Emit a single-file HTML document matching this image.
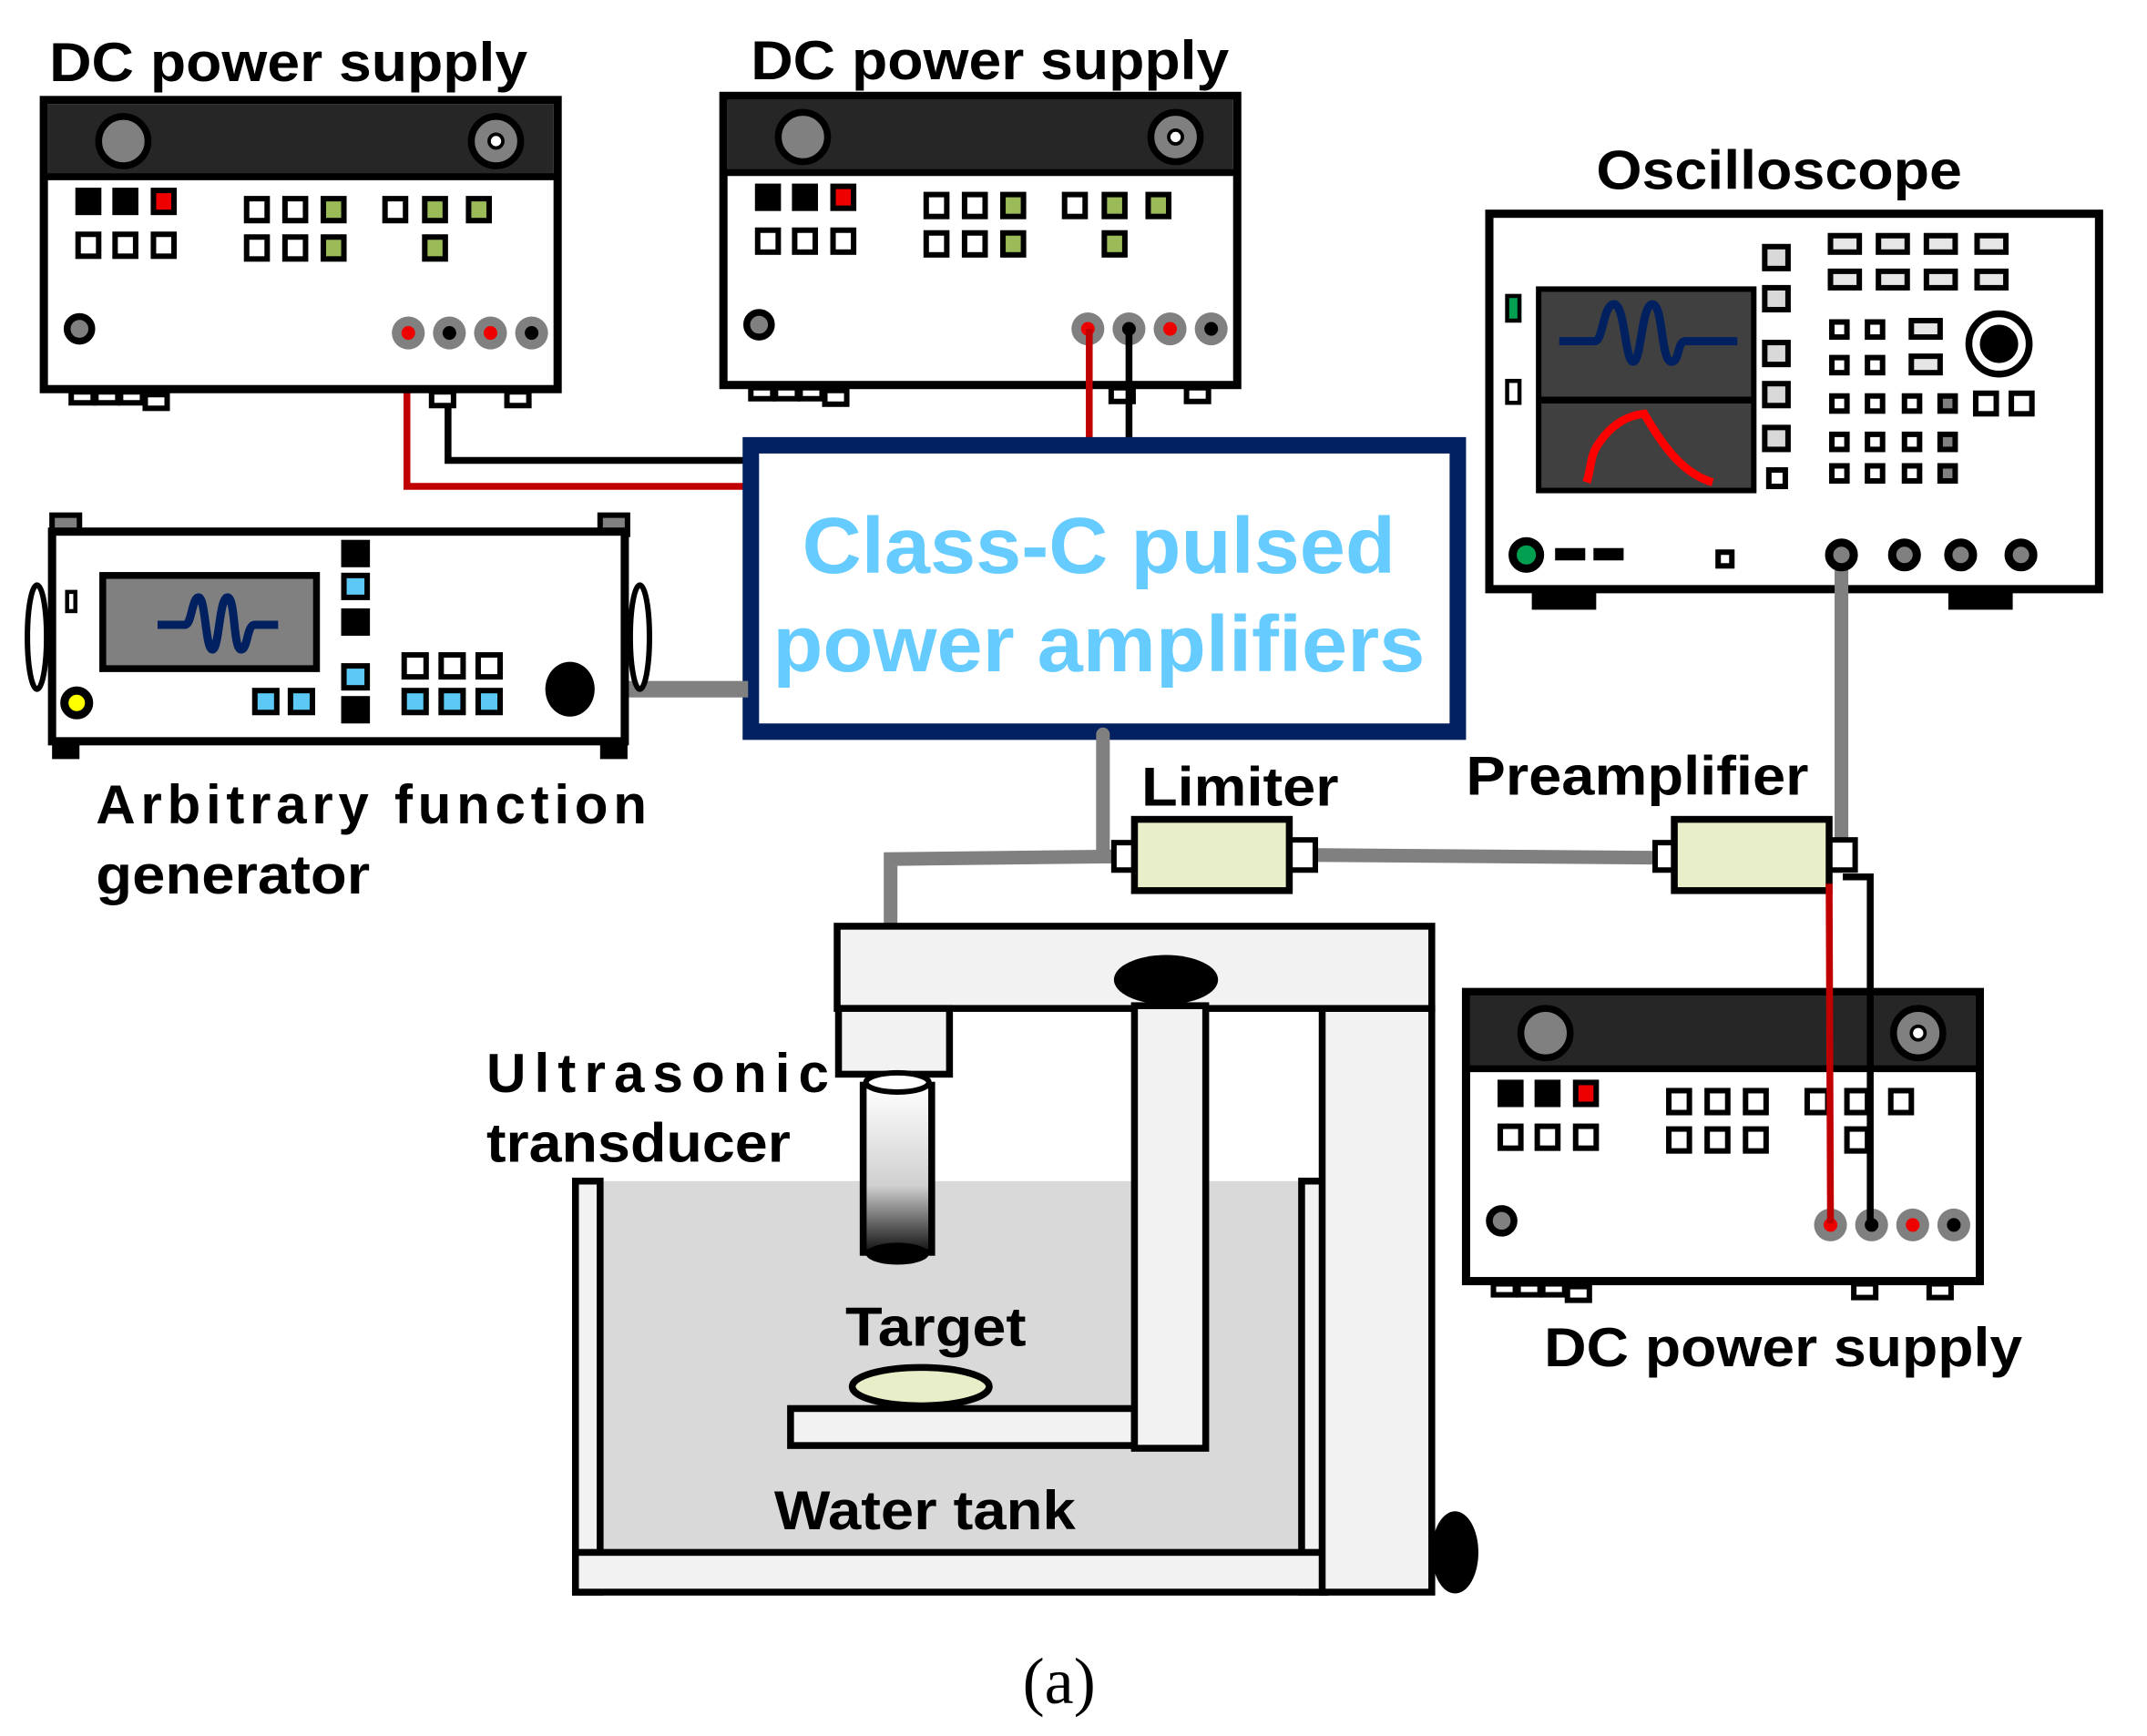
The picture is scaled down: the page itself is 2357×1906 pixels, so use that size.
<!DOCTYPE html>
<html><head><meta charset="utf-8"><style>html,body{margin:0;padding:0;background:#fff}svg{display:block}</style></head>
<body>
<svg width="2357" height="1906" viewBox="0 0 1567 1267" preserveAspectRatio="none" xmlns="http://www.w3.org/2000/svg" font-family="Liberation Sans, sans-serif">
<defs>
<g id="dc">
 <rect x="0" y="0" width="375" height="211" fill="#fff" stroke="#000" stroke-width="6"/>
 <rect x="3" y="3" width="369" height="52" fill="#262626"/>
 <line x1="0" y1="56" x2="375" y2="56" stroke="#000" stroke-width="5"/>
 <circle cx="58" cy="30" r="18" fill="#808080" stroke="#000" stroke-width="5"/>
 <circle cx="330" cy="30" r="18" fill="#808080" stroke="#000" stroke-width="5"/>
 <circle cx="330" cy="30" r="5" fill="#fff" stroke="#000" stroke-width="2.5"/>
 <g stroke="#000" stroke-width="4">
  <rect x="25" y="66" width="15" height="16" fill="#000"/><rect x="52" y="66" width="15" height="16" fill="#000"/><rect x="80" y="66" width="15" height="16" fill="#e00"/>
  <rect x="25" y="98" width="15" height="16" fill="#fff"/><rect x="52" y="98" width="15" height="16" fill="#fff"/><rect x="80" y="98" width="15" height="16" fill="#fff"/>
  <rect x="148" y="72" width="15" height="16" fill="#fff"/><rect x="176" y="72" width="15" height="16" fill="#fff"/>
  <rect x="148" y="100" width="15" height="16" fill="#fff"/><rect x="176" y="100" width="15" height="16" fill="#fff"/>
  <rect x="249" y="72" width="15" height="16" fill="#fff"/>
 </g>
 <circle cx="26" cy="167" r="9" fill="#808080" stroke="#000" stroke-width="5"/>
 <g fill="#808080"><circle cx="266" cy="170" r="12"/><circle cx="296" cy="170" r="12"/><circle cx="326" cy="170" r="12"/><circle cx="356" cy="170" r="12"/></g>
 <circle cx="266" cy="170" r="5" fill="#e00"/><circle cx="296" cy="170" r="5" fill="#000"/><circle cx="326" cy="170" r="5" fill="#e00"/><circle cx="356" cy="170" r="5" fill="#000"/>
 <g fill="#fff" stroke="#000" stroke-width="4">
  <rect x="20" y="213" width="16" height="8"/><rect x="38" y="213" width="16" height="8"/><rect x="56" y="213" width="16" height="8"/><rect x="74" y="215" width="16" height="10"/>
  <rect x="283" y="213" width="16" height="10"/><rect x="338" y="213" width="16" height="10"/>
 </g>
</g>
<g id="grn" stroke="#000" stroke-width="4" fill="#9bbb59">
  <rect x="204" y="72" width="15" height="16"/><rect x="204" y="100" width="15" height="16"/>
  <rect x="278" y="72" width="15" height="16"/><rect x="310" y="72" width="15" height="16"/>
  <rect x="278" y="100" width="15" height="16"/>
</g>
<g id="wht" stroke="#000" stroke-width="4" fill="#fff">
  <rect x="204" y="72" width="15" height="16"/><rect x="204" y="100" width="15" height="16"/>
  <rect x="278" y="72" width="15" height="16"/><rect x="310" y="72" width="15" height="16"/>
  <rect x="278" y="100" width="15" height="16"/>
</g>
<linearGradient id="tg" x1="0" y1="0" x2="0" y2="1"><stop offset="0" stop-color="#fff"/><stop offset="0.6" stop-color="#d0d0d0"/><stop offset="1" stop-color="#111"/></linearGradient>
</defs>

<polyline points="297,243 297,355 546,355" fill="none" stroke="#c00000" stroke-width="5"/>
<polyline points="327,243 327,336 546,336" fill="none" stroke="#000" stroke-width="5"/>

<use href="#dc" x="32" y="73"/><use href="#grn" x="32" y="73"/>
<use href="#dc" x="528" y="70"/><use href="#grn" x="528" y="70"/>
<use href="#dc" x="1070" y="724"/><use href="#wht" x="1070" y="724"/>

<line x1="795" y1="240" x2="795" y2="322" stroke="#c00000" stroke-width="5"/>
<line x1="824" y1="240" x2="824" y2="322" stroke="#000" stroke-width="5"/>

<text x="773" y="1243" font-size="48" text-anchor="middle" font-family="Liberation Serif, serif">(a)</text>

<rect x="548" y="325" width="516" height="209" fill="#fff" stroke="#002060" stroke-width="12"/>
<g fill="#66ccff" font-weight="bold" font-size="58" text-anchor="middle">
<text x="802" y="418" textLength="433" lengthAdjust="spacingAndGlyphs">Class-C pulsed</text>
<text x="802" y="490" textLength="476" lengthAdjust="spacingAndGlyphs">power amplifiers</text>
</g>

<line x1="416" y1="503" x2="546" y2="503" stroke="#808080" stroke-width="12"/>
<rect x="38" y="376" width="20" height="14" fill="#808080" stroke="#000" stroke-width="4"/>
<rect x="438" y="376" width="20" height="14" fill="#808080" stroke="#000" stroke-width="4"/>
<rect x="38" y="540" width="20" height="14" fill="#000"/>
<rect x="438" y="540" width="20" height="14" fill="#000"/>
<ellipse cx="27" cy="465" rx="7" ry="38" fill="#fff" stroke="#000" stroke-width="4"/>
<ellipse cx="467" cy="465" rx="7" ry="38" fill="#fff" stroke="#000" stroke-width="4"/>
<rect x="38" y="388" width="418" height="153" fill="#fff" stroke="#000" stroke-width="6"/>
<rect x="49" y="432" width="6" height="14" fill="#fff" stroke="#000" stroke-width="3"/>
<rect x="75" y="420" width="156" height="68" fill="#808080" stroke="#000" stroke-width="5"/>
<path d="M115,456 L135,456 C140,456 140,436 145,436 C150,436 150,474 155,474 C160,474 160,436 166,436 C172,436 170,474 176,474 C181,474 180,456 186,456 L203,456" fill="none" stroke="#002060" stroke-width="6"/>
<circle cx="56" cy="513" r="9" fill="#ff0" stroke="#000" stroke-width="6"/>
<g stroke="#000" stroke-width="4">
<rect x="251" y="396" width="17" height="16" fill="#000"/><rect x="251" y="420" width="17" height="16" fill="#5bc8f5"/><rect x="251" y="446" width="17" height="16" fill="#000"/>
<rect x="251" y="486" width="17" height="16" fill="#5bc8f5"/><rect x="251" y="510" width="17" height="16" fill="#000"/>
<rect x="186" y="504" width="16" height="16" fill="#5bc8f5"/><rect x="212" y="504" width="16" height="16" fill="#5bc8f5"/>
<rect x="295" y="478" width="16" height="16" fill="#fff"/><rect x="322" y="478" width="16" height="16" fill="#fff"/><rect x="349" y="478" width="16" height="16" fill="#fff"/>
<rect x="295" y="504" width="16" height="16" fill="#5bc8f5"/><rect x="322" y="504" width="16" height="16" fill="#5bc8f5"/><rect x="349" y="504" width="16" height="16" fill="#5bc8f5"/>
</g>
<ellipse cx="416" cy="503" rx="18" ry="20" fill="#000"/>

<rect x="1118" y="428" width="47" height="17" fill="#000"/>
<rect x="1422" y="428" width="47" height="17" fill="#000"/>
<rect x="1087" y="156" width="445" height="274" fill="#fff" stroke="#000" stroke-width="6"/>
<rect x="1123" y="211" width="157" height="147" fill="#404040" stroke="#000" stroke-width="4"/>
<line x1="1123" y1="292" x2="1280" y2="292" stroke="#000" stroke-width="5"/>
<path d="M1138,249 L1164,249 C1170,249 1170,222 1178,222 C1186,222 1186,264 1192,264 C1198,264 1198,222 1206,222 C1214,222 1212,264 1220,264 C1226,264 1224,249 1230,249 L1268,249" fill="none" stroke="#002060" stroke-width="6"/>
<path d="M1158,352 C1162,340 1160,332 1168,322 C1178,308 1190,303 1200,302 C1212,322 1226,345 1250,352" fill="none" stroke="#f00" stroke-width="6"/>
<rect x="1100" y="216" width="9" height="18" fill="#00a050" stroke="#000" stroke-width="3"/>
<rect x="1100" y="278" width="9" height="16" fill="#fff" stroke="#000" stroke-width="3"/>
<g stroke="#000" stroke-width="4" fill="#d9d9d9">
<rect x="1288" y="180" width="17" height="16"/><rect x="1288" y="210" width="17" height="16"/><rect x="1288" y="250" width="17" height="16"/><rect x="1288" y="280" width="17" height="16"/><rect x="1288" y="312" width="17" height="16"/>
<rect x="1291" y="343" width="12" height="12" fill="#fff"/>
</g>
<g stroke="#000" stroke-width="4" fill="#e6e6e6">
<rect x="1336" y="172" width="21" height="12"/><rect x="1371" y="172" width="21" height="12"/><rect x="1406" y="172" width="21" height="12"/><rect x="1443" y="172" width="21" height="12"/>
<rect x="1336" y="198" width="21" height="12"/><rect x="1371" y="198" width="21" height="12"/><rect x="1406" y="198" width="21" height="12"/><rect x="1443" y="198" width="21" height="12"/>
<rect x="1395" y="234" width="21" height="12"/><rect x="1395" y="260" width="21" height="12"/>
</g>
<g stroke="#000" stroke-width="4" fill="#fff">
<rect x="1337" y="235" width="11" height="11"/><rect x="1363" y="235" width="11" height="11"/>
<rect x="1337" y="261" width="11" height="11"/><rect x="1363" y="261" width="11" height="11"/>
<rect x="1337" y="289" width="11" height="11"/><rect x="1363" y="289" width="11" height="11"/><rect x="1390" y="289" width="11" height="11"/><rect x="1416" y="289" width="11" height="11" fill="#808080"/><rect x="1442" y="287" width="15" height="15"/><rect x="1468" y="287" width="15" height="15"/>
<rect x="1337" y="317" width="11" height="11"/><rect x="1363" y="317" width="11" height="11"/><rect x="1390" y="317" width="11" height="11"/><rect x="1416" y="317" width="11" height="11" fill="#808080"/>
<rect x="1337" y="340" width="11" height="11"/><rect x="1363" y="340" width="11" height="11"/><rect x="1390" y="340" width="11" height="11"/><rect x="1416" y="340" width="11" height="11" fill="#808080"/>
<rect x="1254" y="403" width="10" height="10"/>
</g>
<circle cx="1459" cy="251" r="22" fill="#fff" stroke="#000" stroke-width="5"/>
<circle cx="1459" cy="251" r="14" fill="#000"/>
<circle cx="1114" cy="405" r="10" fill="#00a050" stroke="#000" stroke-width="6"/>
<rect x="1135" y="400" width="22" height="9" fill="#000"/><rect x="1163" y="400" width="22" height="9" fill="#000"/>
<g fill="#808080" stroke="#000" stroke-width="6"><circle cx="1390" cy="405" r="9"/><circle cx="1431" cy="405" r="9"/><circle cx="1475" cy="405" r="9"/></g>

<g fill="none" stroke="#808080" stroke-width="10" stroke-linecap="round">
<polyline points="1344,405 1344,628"/>
<polyline points="805,536 805,625 820,625"/>
<polyline points="820,625 650,627 650,738"/>
<polyline points="955,624 1212,626"/>
</g>
<circle cx="1344" cy="405" r="9" fill="#808080" stroke="#000" stroke-width="6"/>

<rect x="813" y="615" width="17" height="20" fill="#fff" stroke="#000" stroke-width="4"/>
<rect x="940" y="613" width="20" height="22" fill="#fff" stroke="#000" stroke-width="4"/>
<rect x="828" y="598" width="113" height="52" fill="#e8eec8" stroke="#000" stroke-width="5"/>
<rect x="1208" y="615" width="17" height="20" fill="#fff" stroke="#000" stroke-width="4"/>
<rect x="1334" y="613" width="20" height="22" fill="#fff" stroke="#000" stroke-width="4"/>
<rect x="1222" y="598" width="113" height="52" fill="#e8eec8" stroke="#000" stroke-width="5"/>
<line x1="1335" y1="645" x2="1336" y2="893" stroke="#c00000" stroke-width="5"/>
<polyline points="1345,640 1365,640 1365,893" fill="none" stroke="#000" stroke-width="5"/>

<rect x="438" y="862" width="512" height="271" fill="#d9d9d9"/>
<rect x="420" y="862" width="18" height="300" fill="#f2f2f2" stroke="#000" stroke-width="5"/>
<rect x="950" y="862" width="17" height="300" fill="#f2f2f2" stroke="#000" stroke-width="5"/>
<rect x="420" y="1133" width="547" height="29" fill="#f2f2f2" stroke="#000" stroke-width="5"/>
<rect x="965" y="736" width="80" height="426" fill="#f2f2f2" stroke="#000" stroke-width="5"/>
<rect x="611" y="676" width="434" height="60" fill="#f2f2f2" stroke="#000" stroke-width="5"/>
<ellipse cx="1062" cy="1133" rx="17" ry="30" fill="#000"/>
<rect x="577" y="1028" width="251" height="27" fill="#f2f2f2" stroke="#000" stroke-width="5"/>
<rect x="828" y="734" width="52" height="323" fill="#f2f2f2" stroke="#000" stroke-width="5"/>
<ellipse cx="851" cy="715" rx="38" ry="18" fill="#000"/>
<ellipse cx="672" cy="1012" rx="50" ry="14" fill="#e8eec8" stroke="#000" stroke-width="5"/>
<rect x="612" y="736" width="81" height="48" fill="#f2f2f2" stroke="#000" stroke-width="5"/>
<rect x="630" y="792" width="50" height="122" fill="url(#tg)" stroke="#000" stroke-width="5"/>
<ellipse cx="655" cy="790" rx="23" ry="7" fill="#fff" stroke="#000" stroke-width="4"/>
<ellipse cx="655" cy="915" rx="23" ry="8" fill="#000"/>

<g font-weight="bold" fill="#000">
<text x="36" y="59" font-size="40" textLength="349" lengthAdjust="spacingAndGlyphs">DC power supply</text>
<text x="548" y="58" font-size="40" textLength="349" lengthAdjust="spacingAndGlyphs">DC power supply</text>
<text x="1127" y="997" font-size="40" textLength="349" lengthAdjust="spacingAndGlyphs">DC power supply</text>
<text x="1165" y="138" font-size="40" textLength="267" lengthAdjust="spacingAndGlyphs">Oscilloscope</text>
<text x="70" y="601" font-size="40" textLength="402" lengthAdjust="spacing">Arbitrary function</text>
<text x="70" y="652" font-size="40" textLength="200" lengthAdjust="spacingAndGlyphs">generator</text>
<text x="833" y="588" font-size="40" textLength="144" lengthAdjust="spacingAndGlyphs">Limiter</text>
<text x="1070" y="580" font-size="40" textLength="250" lengthAdjust="spacingAndGlyphs">Preamplifier</text>
<text x="355" y="797" font-size="40" textLength="250" lengthAdjust="spacing">Ultrasonic</text>
<text x="355" y="848" font-size="40" textLength="222" lengthAdjust="spacingAndGlyphs">transducer</text>
<text x="617" y="982" font-size="40" textLength="132" lengthAdjust="spacingAndGlyphs">Target</text>
<text x="565" y="1116" font-size="40" textLength="220" lengthAdjust="spacingAndGlyphs">Water tank</text>
</g>
</svg>
</body></html>
